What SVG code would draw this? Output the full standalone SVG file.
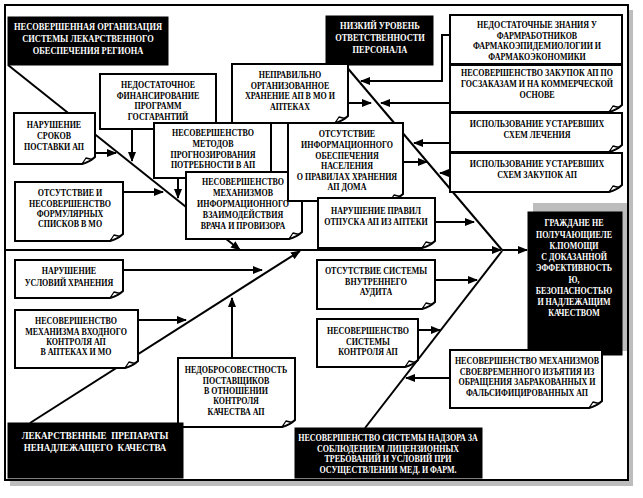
<svg xmlns="http://www.w3.org/2000/svg" width="643" height="498" viewBox="0 0 643 498">
<defs>
<style>
.bx{fill:#fff;stroke:#000;stroke-width:2}
.bk{fill:#000;stroke:#000;stroke-width:1}
.fd{fill:#fff;stroke:#000;stroke-width:1.3;stroke-linejoin:round}
.t{font-family:"Liberation Serif","DejaVu Serif",serif;font-weight:bold;font-size:10px;text-anchor:middle;fill:#000}
.w{fill:#fff}
.ln{fill:none;stroke:#000;stroke-width:2}
.ar{fill:none;stroke:#000;stroke-width:2;marker-end:url(#ah)}
</style>
<marker id="ah" viewBox="0 0 10 10" refX="9" refY="5" markerWidth="10" markerHeight="8" markerUnits="userSpaceOnUse" orient="auto" preserveAspectRatio="none"><path d="M0,0 L10,5 L0,10 Z" fill="#000"/></marker>
</defs>
<rect x="10" y="10" width="623" height="476" fill="#bdbdbd"/>
<rect x="5" y="5" width="623" height="475" fill="#fff" stroke="#000" stroke-width="2"/>

<g id="connectors">
<path class="ar" d="M5,250 H501"/>
<path class="ar" d="M502,250 H527" stroke-width="2.5"/>
<path class="ar" d="M8,65 L240,250"/>
<path class="ln" d="M345,65 L502,250"/>
<path class="ar" d="M30,423 L300,251"/>
<path class="ln" d="M365,428 L502,251"/>
<path class="ar" d="M132,129 V161"/>
<path class="ar" d="M95,153 H116"/>
<path class="ar" d="M178,178 V198"/>
<path class="ar" d="M123,192 H163"/>
<path class="ar" d="M450,35 H442 V81 H361"/>
<path class="ar" d="M348,103 H371"/>
<path class="ar" d="M450,103 H381"/>
<path class="ar" d="M450,143 H414"/>
<path class="ar" d="M403,162 H427"/>
<path class="ar" d="M450,173 H440"/>
<path class="ar" d="M435,222 H474"/>
<path class="ar" d="M123,270 H262"/>
<path class="ar" d="M138,320 H186"/>
<path class="ar" d="M232,358 V298"/>
<path class="ar" d="M435,280 H477"/>
<path class="ar" d="M418,330 H440"/>
<path class="ar" d="M450,378 H406"/>
</g>

<g id="n-org">
<rect class="bk" x="8" y="17" width="160" height="48"/>
<g transform="translate(88 0) scale(0.8 1)"><text class="t w" style="font-size:10.5px"><tspan x="0" y="30.5">НЕСОВЕРШЕННАЯ ОРГАНИЗАЦИЯ</tspan><tspan x="0" y="42.5">СИСТЕМЫ ЛЕКАРСТВЕННОГО</tspan><tspan x="0" y="54.5">ОБЕСПЕЧЕНИЯ РЕГИОНА</tspan></text></g>
</g>

<g id="n-personal">
<rect class="bk" x="326" y="16" width="107" height="49"/>
<g transform="translate(380 0) scale(0.8 1)"><text class="t w" style="font-size:10.5px"><tspan x="0" y="29.5">НИЗКИЙ УРОВЕНЬ</tspan><tspan x="0" y="41.5">ОТВЕТСТВЕННОСТИ</tspan><tspan x="0" y="53.5">ПЕРСОНАЛА</tspan></text></g>
</g>

<g id="n-finance">
<rect class="bx" x="100" y="74" width="116" height="55"/>
<g transform="translate(158 0) scale(0.8 1)"><text class="t"><tspan x="0" y="88.5">НЕДОСТАТОЧНОЕ</tspan><tspan x="0" y="98.8">ФИНАНСИРОВАНИЕ</tspan><tspan x="0" y="109.3">ПРОГРАММ</tspan><tspan x="0" y="120">ГОСГАРАНТИЙ</tspan></text></g>
</g>

<g id="n-storage">
<path class="bx" d="M232,64H348V116Q344,120 335,123H232Z"/><path class="fd" d="M335,123L339,117L345,118.5Z"/>
<g transform="translate(290 0) scale(0.8 1)"><text class="t"><tspan x="0" y="78.5">НЕПРАВИЛЬНО</tspan><tspan x="0" y="88.8">ОРГАНИЗОВАННОЕ</tspan><tspan x="0" y="99.5">ХРАНЕНИЕ АП В МО И</tspan><tspan x="0" y="110.3">АПТЕКАХ</tspan></text></g>
</g>

<g id="n-terms">
<path class="bx" d="M14,113H95V157Q91,161 82,164H14Z"/><path class="fd" d="M82,164L86,158L92,159.5Z"/>
<g transform="translate(54 0) scale(0.8 1)"><text class="t"><tspan x="0" y="128.5">НАРУШЕНИЕ</tspan><tspan x="0" y="139.3">СРОКОВ</tspan><tspan x="0" y="149.8">ПОСТАВКИ АП</tspan></text></g>
</g>

<g id="n-methods">
<rect class="bx" x="154" y="123" width="117" height="55"/>
<g transform="translate(213 0) scale(0.8 1)"><text class="t"><tspan x="0" y="136.5">НЕСОВЕРШЕНСТВО</tspan><tspan x="0" y="147.3">МЕТОДОВ</tspan><tspan x="0" y="158">ПРОГНОЗИРОВАНИЯ</tspan><tspan x="0" y="168.5">ПОТРЕБНОСТИ В АП</tspan></text></g>
</g>

<g id="n-mechanisms">
<path class="bx" d="M186,172H302V232Q298,236 289,239H186Z"/><path class="fd" d="M289,239L293,233L299,234.5Z"/>
<g transform="translate(243 0) scale(0.8 1)"><text class="t"><tspan x="0" y="185.5">НЕСОВЕРШЕНСТВО</tspan><tspan x="0" y="196.3">МЕХАНИЗМОВ</tspan><tspan x="0" y="207.1">ИНФОРМАЦИОННОГО</tspan><tspan x="0" y="217.9">ВЗАИМОДЕЙСТВИЯ</tspan><tspan x="0" y="228.7">ВРАЧА И ПРОВИЗОРА</tspan></text></g>
</g>

<g id="n-info">
<path class="bx" d="M288,123H403V194Q399,198 390,201H288Z"/><path class="fd" d="M390,201L394,195L400,196.5Z"/>
<g transform="translate(347 0) scale(0.8 1)"><text class="t"><tspan x="0" y="137.5">ОТСУТСТВИЕ</tspan><tspan x="0" y="148">ИНФОРМАЦИОННОГО</tspan><tspan x="0" y="158.6">ОБЕСПЕЧЕНИЯ</tspan><tspan x="0" y="169.1">НАСЕЛЕНИЯ</tspan><tspan x="0" y="179.7">О ПРАВИЛАХ ХРАНЕНИЯ</tspan><tspan x="0" y="190.3">АП ДОМА</tspan></text></g>
</g>

<g id="n-formulary">
<path class="bx" d="M15,182H123V234Q119,238 110,241H15Z"/><path class="fd" d="M110,241L114,235L120,236.5Z"/>
<g transform="translate(70 0) scale(0.8 1)"><text class="t"><tspan x="0" y="196.5">ОТСУТСТВИЕ И</tspan><tspan x="0" y="206.8">НЕСОВЕРШЕНСТВО</tspan><tspan x="0" y="217.2">ФОРМУЛЯРНЫХ</tspan><tspan x="0" y="227.5">СПИСКОВ В МО</tspan></text></g>
</g>

<g id="n-knowledge">
<rect class="bx" x="450" y="15" width="172" height="49"/>
<g transform="translate(537 0) scale(0.8 1)"><text class="t"><tspan x="0" y="28.3">НЕДОСТАТОЧНЫЕ ЗНАНИЯ У</tspan><tspan x="0" y="38.8">ФАРМРАБОТНИКОВ</tspan><tspan x="0" y="49.3">ФАРМАКОЭПИДЕМИОЛОГИИ И</tspan><tspan x="0" y="59.8">ФАРМАКОЭКОНОМИКИ</tspan></text></g>
</g>

<g id="n-purchase">
<path class="bx" d="M450,65H622V105Q618,109 609,112H450Z"/><path class="fd" d="M609,112L613,106L619,107.5Z"/>
<g transform="translate(537 0) scale(0.8 1)"><text class="t"><tspan x="0" y="76.5">НЕСОВЕРШЕНСТВО ЗАКУПОК АП ПО</tspan><tspan x="0" y="87.5">ГОСЗАКАЗАМ И НА КОММЕРЧЕСКОЙ</tspan><tspan x="0" y="98.5">ОСНОВЕ</tspan></text></g>
</g>

<g id="n-treatment">
<path class="bx" d="M450,113H622V145Q618,149 609,152H450Z"/><path class="fd" d="M609,152L613,146L619,147.5Z"/>
<g transform="translate(537 0) scale(0.8 1)"><text class="t"><tspan x="0" y="127.5">ИСПОЛЬЗОВАНИЕ УСТАРЕВШИХ</tspan><tspan x="0" y="138.5">СХЕМ ЛЕЧЕНИЯ</tspan></text></g>
</g>

<g id="n-schemes">
<path class="bx" d="M450,153H622V185Q618,189 609,192H450Z"/><path class="fd" d="M609,192L613,186L619,187.5Z"/>
<g transform="translate(537 0) scale(0.8 1)"><text class="t"><tspan x="0" y="167.5">ИСПОЛЬЗОВАНИЕ УСТАРЕВШИХ</tspan><tspan x="0" y="178.5">СХЕМ ЗАКУПОК АП</tspan></text></g>
</g>

<g id="n-dispense">
<path class="bx" d="M318,198H435V241Q431,245 422,248H318Z"/><path class="fd" d="M422,248L426,242L432,243.5Z"/>
<g transform="translate(376 0) scale(0.8 1)"><text class="t"><tspan x="0" y="214.5">НАРУШЕНИЕ ПРАВИЛ</tspan><tspan x="0" y="224.8">ОТПУСКА АП ИЗ АПТЕКИ</tspan></text></g>
</g>

<g id="n-result">
<rect x="533" y="203" width="94" height="148" fill="#bdbdbd"/>
<rect class="bk" x="528" y="212" width="94" height="143"/>
<g transform="translate(574 0) scale(0.8 1)"><text class="t w"><tspan x="0" y="226.3">ГРАЖДАНЕ НЕ</tspan><tspan x="0" y="237.6">ПОЛУЧАЮЩИЕЛЕ</tspan><tspan x="0" y="248.8">К.ПОМОЩИ</tspan><tspan x="0" y="260.1">С ДОКАЗАННОЙ</tspan><tspan x="0" y="271.3">ЭФФЕКТИВНОСТЬ</tspan><tspan x="0" y="282.6">Ю,</tspan><tspan x="0" y="293.8">БЕЗОПАСНОСТЬЮ</tspan><tspan x="0" y="305.1">И НАДЛЕЖАЩИМ</tspan><tspan x="0" y="316.3">КАЧЕСТВОМ</tspan></text></g>
</g>

<g id="n-conditions">
<path class="bx" d="M15,260H123V291Q119,295 110,298H15Z"/><path class="fd" d="M110,298L114,292L120,293.5Z"/>
<g transform="translate(69 0) scale(0.8 1)"><text class="t"><tspan x="0" y="274.5">НАРУШЕНИЕ</tspan><tspan x="0" y="285.5">УСЛОВИЙ ХРАНЕНИЯ</tspan></text></g>
</g>

<g id="n-input">
<path class="bx" d="M15,310H138V361Q134,365 125,368H15Z"/><path class="fd" d="M125,368L129,362L135,363.5Z"/>
<g transform="translate(76 0) scale(0.8 1)"><text class="t"><tspan x="0" y="324.5">НЕСОВЕРШЕНСТВО</tspan><tspan x="0" y="335">МЕХАНИЗМА ВХОДНОГО</tspan><tspan x="0" y="345.3">КОНТРОЛЯ АП</tspan><tspan x="0" y="355.5">В АПТЕКАХ И МО</tspan></text></g>
</g>

<g id="n-audit">
<path class="bx" d="M317,260H435V302Q431,306 422,309H317Z"/><path class="fd" d="M422,309L426,303L432,304.5Z"/>
<g transform="translate(376 0) scale(0.8 1)"><text class="t"><tspan x="0" y="274.5">ОТСУТСТВИЕ СИСТЕМЫ</tspan><tspan x="0" y="285">ВНУТРЕННЕГО</tspan><tspan x="0" y="295.5">АУДИТА</tspan></text></g>
</g>

<g id="n-control">
<path class="bx" d="M317,319H418V360Q414,364 405,367H317Z"/><path class="fd" d="M405,367L409,361L415,362.5Z"/>
<g transform="translate(368 0) scale(0.8 1)"><text class="t"><tspan x="0" y="334.5">НЕСОВЕРШЕНСТВО</tspan><tspan x="0" y="345">СИСТЕМЫ</tspan><tspan x="0" y="355.5">КОНТРОЛЯ АП</tspan></text></g>
</g>

<g id="n-withdrawal">
<path class="bx" d="M450,350H602V401Q598,405 589,408H450Z"/><path class="fd" d="M589,408L593,402L599,403.5Z"/>
<g transform="translate(527 0) scale(0.8 1)"><text class="t"><tspan x="0" y="364.5">НЕСОВЕРШЕНСТВО МЕХАНИЗМОВ</tspan><tspan x="0" y="375">СВОЕВРЕМЕННОГО ИЗЪЯТИЯ ИЗ</tspan><tspan x="0" y="385.5">ОБРАЩЕНИЯ ЗАБРАКОВАННЫХ И</tspan><tspan x="0" y="396">ФАЛЬСИФИЦИРОВАННЫХ АП</tspan></text></g>
</g>

<g id="n-suppliers">
<path class="bx" d="M178,358H295V420Q291,424 282,427H178Z"/><path class="fd" d="M282,427L286,421L292,422.5Z"/>
<g transform="translate(236 0) scale(0.8 1)"><text class="t"><tspan x="0" y="373.5">НЕДОБРОСОВЕСТНОСТЬ</tspan><tspan x="0" y="384">ПОСТАВЩИКОВ</tspan><tspan x="0" y="394.3">В ОТНОШЕНИИ</tspan><tspan x="0" y="404.5">КОНТРОЛЯ</tspan><tspan x="0" y="414.8">КАЧЕСТВА АП</tspan></text></g>
</g>

<g id="n-drugs">
<rect class="bk" x="8" y="423" width="175" height="55"/>
<g transform="translate(95 0) scale(0.82 1)"><text class="t w" style="font-size:11px;word-spacing:3px"><tspan x="0" y="439.5">ЛЕКАРСТВЕННЫЕ ПРЕПАРАТЫ</tspan><tspan x="0" y="451.5">НЕНАДЛЕЖАЩЕГО КАЧЕСТВА</tspan></text></g>
</g>

<g id="n-supervision">
<rect class="bk" x="295" y="428" width="187" height="50"/>
<g transform="translate(388 0) scale(0.8 1)"><text class="t w"><tspan x="0" y="441.5">НЕСОВЕРШЕНСТВО СИСТЕМЫ НАДЗОРА ЗА</tspan><tspan x="0" y="452">СОБЛЮДЕНИЕМ ЛИЦЕНЗИОННЫХ</tspan><tspan x="0" y="462.5">ТРЕБОВАНИЙ И УСЛОВИЙ ПРИ</tspan><tspan x="0" y="473">ОСУЩЕСТВЛЕНИИ МЕД. И ФАРМ.</tspan></text></g>
</g>
</svg>
